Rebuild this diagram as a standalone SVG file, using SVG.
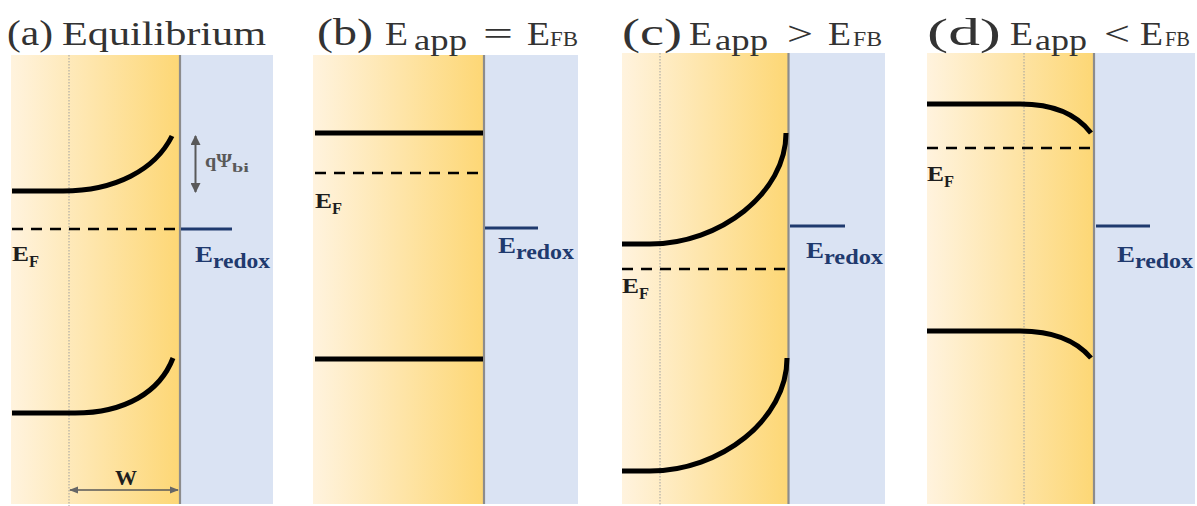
<svg xmlns="http://www.w3.org/2000/svg" width="1197" height="506" viewBox="0 0 1197 506">
<style>
.sc{fill:url(#yel)}
.el{fill:#DAE3F3}
.iface{stroke:#8C8C8C;stroke-width:2.2}
.dot{stroke:#A0A0A0;stroke-width:1;stroke-dasharray:1.5 1.5}
.band{fill:none;stroke:#000;stroke-width:5}
.ef{stroke:#000;stroke-width:2.5;stroke-dasharray:11 8}
.redox{stroke:#1F3A6E;stroke-width:3}
.ttl{font-family:'Liberation Serif','Times New Roman',Times,serif;fill:#333}
.lbF{font-family:'Liberation Serif','Times New Roman',Times,serif;font-weight:bold;fill:#1E1E1E}
.lbR{font-family:'Liberation Serif','Times New Roman',Times,serif;font-weight:bold;fill:#1F3A6E}
.ann{font-family:'Liberation Serif','Times New Roman',Times,serif;font-weight:bold;fill:#595959}
.conn{stroke:#595959;fill:none}
</style>
<defs>
<linearGradient id="yel" x1="0" y1="0" x2="1" y2="0">
<stop offset="0" stop-color="#FFF3DE"/>
<stop offset="1" stop-color="#FDD775"/>
</linearGradient>
<marker id="ah" viewBox="0 0 10 10" refX="9" refY="5" markerWidth="5" markerHeight="5" orient="auto-start-reverse">
<path d="M0,0 L10,5 L0,10 z" fill="#595959"/>
</marker>
<marker id="ahs" viewBox="0 0 10 10" refX="9" refY="5" markerWidth="7" markerHeight="7" orient="auto-start-reverse">
<path d="M0,1 L10,5 L0,9 z" fill="#666"/>
</marker>
</defs>
<rect width="1197" height="506" fill="#fff"/>

<g id="panel-a">
<rect class="sc" x="11" y="55" width="169" height="449"/>
<rect class="el" x="180" y="55" width="93" height="449"/>
<line class="dot" x1="69" y1="55" x2="69" y2="506"/>
<line class="iface" x1="180" y1="55" x2="180" y2="504"/>
<path class="band" d="M12,191 H63 C115,191 155,170 172,136"/>
<path class="band" d="M12,413 H75 C125,413 160,392 173,358"/>
<line class="ef" x1="12" y1="229" x2="178" y2="229"/>
<line class="redox" x1="181" y1="229" x2="232" y2="229"/>
<text class="ttl" x="7" y="45" font-size="36" textLength="46" lengthAdjust="spacingAndGlyphs">(a)</text>
<text class="ttl" x="62" y="45" font-size="33" textLength="204" lengthAdjust="spacingAndGlyphs">Equilibrium</text>
<text class="lbF" x="12" y="261" font-size="22" textLength="17" lengthAdjust="spacingAndGlyphs">E</text>
<text class="lbF" x="29" y="267" font-size="16" textLength="10" lengthAdjust="spacingAndGlyphs">F</text>
<text class="lbR" x="195" y="262" font-size="24" textLength="18" lengthAdjust="spacingAndGlyphs">E</text>
<text class="lbR" x="213" y="268" font-size="21" textLength="57" lengthAdjust="spacingAndGlyphs">redox</text>
<text class="ann" x="205" y="167" font-size="18" textLength="27" lengthAdjust="spacingAndGlyphs">qΨ</text>
<text class="ann" x="232" y="172" font-size="13" textLength="17" lengthAdjust="spacingAndGlyphs">bi</text>
<text class="lbF" x="115" y="485" font-size="20" fill="#333" textLength="22" lengthAdjust="spacingAndGlyphs">W</text>
</g>

<g id="panel-b">
<rect class="sc" x="313" y="55" width="171" height="449"/>
<rect class="el" x="484" y="55" width="94" height="449"/>
<line class="iface" x1="484" y1="55" x2="484" y2="504"/>
<line class="band" x1="315" y1="133" x2="483" y2="133"/>
<line class="band" x1="315" y1="359" x2="483" y2="359"/>
<line class="ef" x1="315" y1="173" x2="482" y2="173"/>
<line class="redox" x1="485" y1="228" x2="538" y2="228"/>
<text class="ttl" x="317" y="45" font-size="38" textLength="56" lengthAdjust="spacingAndGlyphs">(b)</text>
<text class="ttl" x="385" y="45" font-size="33" textLength="23" lengthAdjust="spacingAndGlyphs">E</text>
<text class="ttl" x="414" y="50" font-size="30" textLength="53" lengthAdjust="spacingAndGlyphs">app</text>
<text class="ttl" x="483" y="45" font-size="33" textLength="30" lengthAdjust="spacingAndGlyphs">=</text>
<text class="ttl" x="527" y="45" font-size="33" textLength="23" lengthAdjust="spacingAndGlyphs">E</text>
<text class="ttl" x="550" y="46" font-size="21" textLength="28" lengthAdjust="spacingAndGlyphs">FB</text>
<text class="lbF" x="315" y="208" font-size="22" textLength="17" lengthAdjust="spacingAndGlyphs">E</text>
<text class="lbF" x="332" y="214" font-size="16" textLength="10" lengthAdjust="spacingAndGlyphs">F</text>
<text class="lbR" x="498" y="253" font-size="24" textLength="18" lengthAdjust="spacingAndGlyphs">E</text>
<text class="lbR" x="516" y="259" font-size="21" textLength="58" lengthAdjust="spacingAndGlyphs">redox</text>
</g>

<g id="panel-c">
<rect class="sc" x="622" y="53" width="166" height="451"/>
<rect class="el" x="789" y="53" width="96" height="451"/>
<line class="dot" x1="660" y1="53" x2="660" y2="506"/>
<line class="iface" x1="788.5" y1="53" x2="788.5" y2="504"/>
<path class="band" d="M622,244 H650 C720,244 786,193 786,133"/>
<path class="band" d="M622,471 H650 C720,471 787,420 787,358"/>
<line class="ef" x1="622" y1="269" x2="787" y2="269"/>
<line class="redox" x1="790" y1="226" x2="845" y2="226"/>
<text class="ttl" x="622" y="45" font-size="38" textLength="60" lengthAdjust="spacingAndGlyphs">(c)</text>
<text class="ttl" x="689" y="45" font-size="33" textLength="23" lengthAdjust="spacingAndGlyphs">E</text>
<text class="ttl" x="715" y="50" font-size="30" textLength="53" lengthAdjust="spacingAndGlyphs">app</text>
<text class="ttl" x="787" y="45" font-size="33" textLength="26" lengthAdjust="spacingAndGlyphs">&gt;</text>
<text class="ttl" x="828" y="45" font-size="33" textLength="23" lengthAdjust="spacingAndGlyphs">E</text>
<text class="ttl" x="853" y="46" font-size="21" textLength="29" lengthAdjust="spacingAndGlyphs">FB</text>
<text class="lbF" x="622" y="293" font-size="22" textLength="17" lengthAdjust="spacingAndGlyphs">E</text>
<text class="lbF" x="639" y="299" font-size="16" textLength="10" lengthAdjust="spacingAndGlyphs">F</text>
<text class="lbR" x="806" y="258" font-size="24" textLength="18" lengthAdjust="spacingAndGlyphs">E</text>
<text class="lbR" x="824" y="264" font-size="21" textLength="59" lengthAdjust="spacingAndGlyphs">redox</text>
</g>

<g id="panel-d">
<rect class="sc" x="927" y="53" width="167" height="451"/>
<rect class="el" x="1094" y="53" width="101" height="451"/>
<line class="dot" x1="1024" y1="53" x2="1024" y2="506"/>
<line class="iface" x1="1094" y1="53" x2="1094" y2="504"/>
<path class="band" d="M927,104 H1020 C1050,104 1075,112 1091,133"/>
<path class="band" d="M927,331 H1020 C1050,331 1075,339 1091,358"/>
<line class="ef" x1="927" y1="148" x2="1092" y2="148"/>
<line class="redox" x1="1096" y1="226" x2="1150" y2="226"/>
<text class="ttl" x="927" y="45" font-size="38" textLength="74" lengthAdjust="spacingAndGlyphs">(d)</text>
<text class="ttl" x="1010" y="45" font-size="33" textLength="23" lengthAdjust="spacingAndGlyphs">E</text>
<text class="ttl" x="1035" y="50" font-size="30" textLength="52" lengthAdjust="spacingAndGlyphs">app</text>
<text class="ttl" x="1104" y="45" font-size="33" textLength="26" lengthAdjust="spacingAndGlyphs">&lt;</text>
<text class="ttl" x="1140" y="45" font-size="33" textLength="23" lengthAdjust="spacingAndGlyphs">E</text>
<text class="ttl" x="1165" y="46" font-size="21" textLength="25" lengthAdjust="spacingAndGlyphs">FB</text>
<text class="lbF" x="927" y="181" font-size="22" textLength="17" lengthAdjust="spacingAndGlyphs">E</text>
<text class="lbF" x="944" y="187" font-size="16" textLength="10" lengthAdjust="spacingAndGlyphs">F</text>
<text class="lbR" x="1117" y="262" font-size="24" textLength="18" lengthAdjust="spacingAndGlyphs">E</text>
<text class="lbR" x="1135" y="268" font-size="21" textLength="58" lengthAdjust="spacingAndGlyphs">redox</text>
</g>

<g id="connectors">
<line class="conn" x1="195.5" y1="136" x2="195.5" y2="192" stroke-width="2" marker-start="url(#ah)" marker-end="url(#ah)"/>
<line class="conn" x1="70" y1="490" x2="178" y2="490" stroke-width="1.3" stroke="#666" marker-start="url(#ahs)" marker-end="url(#ahs)"/>
</g>
</svg>
